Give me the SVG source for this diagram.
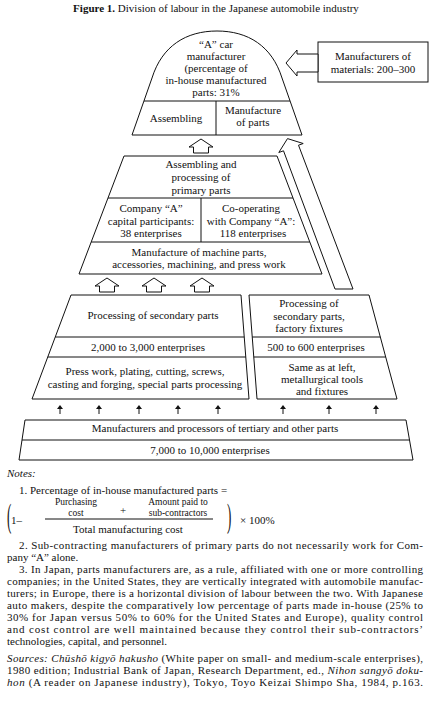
<svg xmlns="http://www.w3.org/2000/svg" width="432" height="703" viewBox="0 0 432 703" font-family="'Liberation Serif','Times New Roman',serif">
<style>
.s{fill:#fff;stroke:#111;stroke-width:1}
.l{fill:none;stroke:#111;stroke-width:1}
text{font-family:"Liberation Serif","Times New Roman",serif;font-size:11px;fill:#111}
.c{text-anchor:middle}
.i{font-style:italic}
.b{font-weight:bold}
.f{font-size:9.5px}
</style>
<defs>
<path id="ua" class="s" d="M0,0 L12,8 L7.5,8 L7.5,14 L-7.5,14 L-7.5,8 L-12,8 Z"/>
<g id="sa"><line class="l" x1="0" y1="3" x2="0" y2="9"/><path d="M-3,4 L0,0 L3,4 Z" fill="#111"/></g>
</defs>
<rect width="432" height="703" fill="#fff"/>
<text x="216" y="12" class="c"><tspan class="b">Figure 1.</tspan>  Division of labour in the Japanese automobile industry</text>

<g id="car-manufacturer">
<path class="s" d="M132,135 L152,78 C162,46 186,31 217,31 C248,31 272,46 282,78 L302,135 Z"/>
<line class="l" x1="144" y1="101" x2="290" y2="101"/>
<line class="l" x1="216" y1="101" x2="216" y2="135"/>
<text class="c" x="216" y="48">“A” car</text>
<text class="c" x="216" y="60">manufacturer</text>
<text class="c" x="216" y="72">(percentage of</text>
<text class="c" x="216" y="84">in-house manufactured</text>
<text class="c" x="216" y="96">parts: 31%</text>
<text class="c" x="176" y="122">Assembling</text>
<text class="c" x="253" y="114">Manufacture</text>
<text class="c" x="253" y="126">of parts</text>
</g>

<g id="materials">
<rect class="s" x="318" y="42" width="110" height="40"/>
<text class="c" x="373" y="60">Manufacturers of</text>
<text class="c" x="373" y="73">materials: 200–300</text>
</g>

<g id="primary-parts">
<polygon class="s" points="124,156 277,156 322,274 79,274"/>
<line class="l" x1="108" y1="198" x2="293" y2="198"/>
<line class="l" x1="91.2" y1="242" x2="309.8" y2="242"/>
<line class="l" x1="201" y1="198" x2="201" y2="242"/>
<text class="c" x="201" y="168">Assembling and</text>
<text class="c" x="201" y="181">processing of</text>
<text class="c" x="201" y="194">primary parts</text>
<text class="c" x="151" y="212">Company “A”</text>
<text class="c" x="151" y="224.5">capital participants:</text>
<text class="c" x="151" y="237">38 enterprises</text>
<text class="c" x="251" y="212">Co-operating</text>
<text class="c" x="251" y="224.5">with Company “A”:</text>
<text class="c" x="253" y="237">118 enterprises</text>
<text class="c" x="199" y="256">Manufacture of machine parts,</text>
<text class="c" x="199" y="268">accessories, machining, and press work</text>
</g>

<g id="secondary-parts">
<polygon class="s" points="71,295 241,295 249,399 32,399"/>
<line class="l" x1="55.25" y1="337" x2="244.2" y2="337"/>
<line class="l" x1="47.75" y1="357" x2="245.8" y2="357"/>
<text class="c" x="153" y="319">Processing of secondary parts</text>
<text class="c" x="148" y="351">2,000 to 3,000 enterprises</text>
<text class="c" x="145" y="375">Press work, plating, cutting, screws,</text>
<text class="c" x="145" y="388">casting and forging, special parts processing</text>
</g>

<g id="factory-fixtures">
<polygon class="s" points="249,295 369,295 397,399 257,399"/>
<line class="l" x1="252.2" y1="337" x2="380.3" y2="337"/>
<line class="l" x1="253.8" y1="357" x2="385.7" y2="357"/>
<text class="c" x="309" y="307">Processing of</text>
<text class="c" x="309" y="320">secondary parts,</text>
<text class="c" x="309" y="332">factory fixtures</text>
<text class="c" x="316" y="351">500 to 600  enterprises</text>
<text class="c" x="322" y="371">Same as at left,</text>
<text class="c" x="322" y="383">metallurgical tools</text>
<text class="c" x="322" y="395">and fixtures</text>
</g>

<g id="tertiary-parts">
<polygon class="s" points="25,420 406,420 413,460 19,460"/>
<line class="l" x1="22" y1="440" x2="409.5" y2="440"/>
<text class="c" x="215" y="432">Manufacturers and processors of tertiary and other parts</text>
<text class="c" x="210" y="454">7,000 to 10,000 enterprises</text>
</g>

<g id="connectors">
<polygon class="s" points="318,54 297,54 297,50 286,63 297,76 297,72 318,72"/>
<polygon class="s" points="335,289 283.5,150.8 278.8,152.5 287.5,138.6 303.2,143.5 298.5,145.2 353,289"/>
<use href="#ua" x="201" y="139"/>
<use href="#ua" x="107" y="278"/>
<use href="#ua" x="154" y="278"/>
<use href="#ua" x="202" y="278"/>
<use href="#sa" x="60" y="405"/>
<use href="#sa" x="99" y="405"/>
<use href="#sa" x="139" y="405"/>
<use href="#sa" x="178" y="405"/>
<use href="#sa" x="218" y="405"/>
<use href="#sa" x="283" y="405"/>
<use href="#sa" x="329" y="405"/>
<use href="#sa" x="376" y="405"/>
</g>

<g id="notes">
<text x="7" y="477" class="i">Notes:</text>
<text x="19" y="494">1. Percentage of in-house manufactured parts =</text>
<text transform="translate(7,527) scale(1,2.6)" style="font-size:13px">(</text>
<text x="11" y="524">1–</text>
<text class="c f" x="76" y="505">Purchasing</text>
<text class="c f" x="76" y="516">cost</text>
<text class="c" x="123" y="514">+</text>
<text class="c f" x="178" y="505">Amount paid to</text>
<text class="c f" x="178" y="516">sub-contractors</text>
<line class="l" x1="45" y1="519" x2="213" y2="519"/>
<text class="c" x="128" y="533">Total manufacturing cost</text>
<text transform="translate(227,527) scale(1,2.6)" style="font-size:13px">)</text>
<text x="240" y="524">× 100%</text>
<text x="19" y="549" textLength="404" lengthAdjust="spacing">2. Sub-contracting manufacturers of primary parts do not necessarily work for Com-</text>
<text x="7" y="561">pany “A” alone.</text>
<text x="19" y="573" textLength="404" lengthAdjust="spacing">3. In Japan, parts manufacturers are, as a rule, affiliated with one or more controlling</text>
<text x="7" y="585" textLength="416" lengthAdjust="spacing">companies; in the United States, they are vertically integrated with automobile manufac-</text>
<text x="7" y="597" textLength="416" lengthAdjust="spacing">turers; in Europe, there is a horizontal division of labour between the two. With Japanese</text>
<text x="7" y="609" textLength="416" lengthAdjust="spacing">auto makers, despite the comparatively low percentage of parts made in-house (25% to</text>
<text x="7" y="621" textLength="416" lengthAdjust="spacing">30% for Japan versus 50% to 60% for the United States and Europe), quality control</text>
<text x="7" y="633" textLength="416" lengthAdjust="spacing">and cost control are well maintained because they control their sub-contractors’</text>
<text x="7" y="645">technologies, capital, and personnel.</text>
<text x="7" y="662" textLength="416" lengthAdjust="spacing"><tspan class="i">Sources: Chūshō kigyō hakusho</tspan> (White paper on small- and medium-scale enterprises),</text>
<text x="7" y="674" textLength="416" lengthAdjust="spacing">1980 edition; Industrial Bank of Japan, Research Department, ed., <tspan class="i">Nihon sangyō doku-</tspan></text>
<text x="7" y="686" textLength="416" lengthAdjust="spacing"><tspan class="i">hon</tspan> (A reader on Japanese industry), Tokyo, Toyo Keizai Shimpo Sha, 1984, p.163.</text>
</g>
</svg>
